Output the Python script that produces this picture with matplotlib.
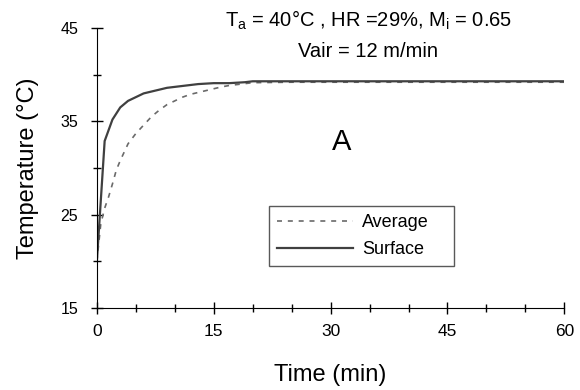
import numpy as np
import matplotlib.pyplot as plt
from matplotlib.ticker import MultipleLocator, FixedLocator

plt.rcParams['font.family'] = ['Liberation Sans', 'DejaVu Sans']

# data
t_surface = [0, 1, 2, 3, 4, 5, 6, 7, 8, 9, 10, 11, 12, 13, 14, 15, 16, 17, 18, 19, 20,
             25, 30, 35, 40, 45, 50, 55, 60]
T_surface = [20.0, 32.9, 35.2, 36.5, 37.2, 37.6, 38.0, 38.2, 38.4, 38.6, 38.7, 38.8, 38.9,
             39.0, 39.05, 39.1, 39.1, 39.1, 39.15, 39.2, 39.3,
             39.3, 39.3, 39.3, 39.3, 39.3, 39.3, 39.3, 39.3]

t_average = [0, 0.5, 1, 1.5, 2, 2.5, 3, 4, 5, 6, 7, 8, 9, 10, 11, 12, 13, 14, 15, 16, 17,
             18, 19, 20, 25, 30, 35, 40, 45, 50, 55, 60]
T_average = [20.0, 24.0, 25.7, 26.9, 28.3, 29.8, 30.8, 32.6, 33.7, 34.6, 35.5, 36.2, 36.8,
             37.2, 37.6, 37.9, 38.1, 38.3, 38.5, 38.7, 38.85, 38.95, 39.05, 39.15,
             39.2, 39.2, 39.2, 39.2, 39.2, 39.2, 39.2, 39.2]

y_major = [15, 25, 35, 45]
y_minor = [20, 30, 40]

fig = plt.figure(figsize=(5.8, 3.9), dpi=100)
ax = fig.add_axes([0.167, 0.21, 0.806, 0.718])

ax.plot(t_average, T_average, color='#6a6a6a', lw=1.2, ls=(0, (3, 3.5)), label='Average')
ax.plot(t_surface, T_surface, color='#404040', lw=1.6, label='Surface')

ax.set_xlim(0, 60)
ax.set_ylim(15, 45)
ax.xaxis.set_major_locator(MultipleLocator(15))
ax.xaxis.set_minor_locator(MultipleLocator(5))
ax.yaxis.set_major_locator(FixedLocator(y_major))
ax.yaxis.set_minor_locator(FixedLocator(y_minor))
ax.tick_params(which='major', direction='inout', length=9, width=1)
ax.tick_params(which='minor', direction='inout', length=6, width=1)
ax.tick_params(axis='y', which='major', labelsize=11.5, pad=9)
ax.tick_params(axis='x', which='major', labelsize=12.5, pad=7)

for s in ['top', 'right']:
    ax.spines[s].set_visible(False)

ax.set_xlabel('Time (min)', fontsize=17, labelpad=18)
ax.set_ylabel('Temperature (°C)', fontsize=17, labelpad=15)

fig.text(0.635, 0.949, r'T$_\mathregular{a}$ = 40°C , HR =29%, M$_\mathregular{i}$ = 0.65',
         ha='center', va='center', fontsize=14.5)
fig.text(0.635, 0.867, 'Vair = 12 m/min', ha='center', va='center', fontsize=14.5)
fig.text(0.589, 0.635, 'A', ha='center', va='center', fontsize=21)

# legend box: pixel 269-454 x, 206-270 y in the reference
leg = ax.legend(loc='upper left', bbox_to_anchor=(0.368, 0.136, 0.396, 0.229),
                mode='expand', borderaxespad=0, frameon=True, fancybox=False,
                edgecolor='#303030', fontsize=13, handlelength=4.2,
                handletextpad=0.5, borderpad=0.45, labelspacing=0.55)
leg.get_frame().set_linewidth(1)

fig.savefig('out.png', dpi=100)
